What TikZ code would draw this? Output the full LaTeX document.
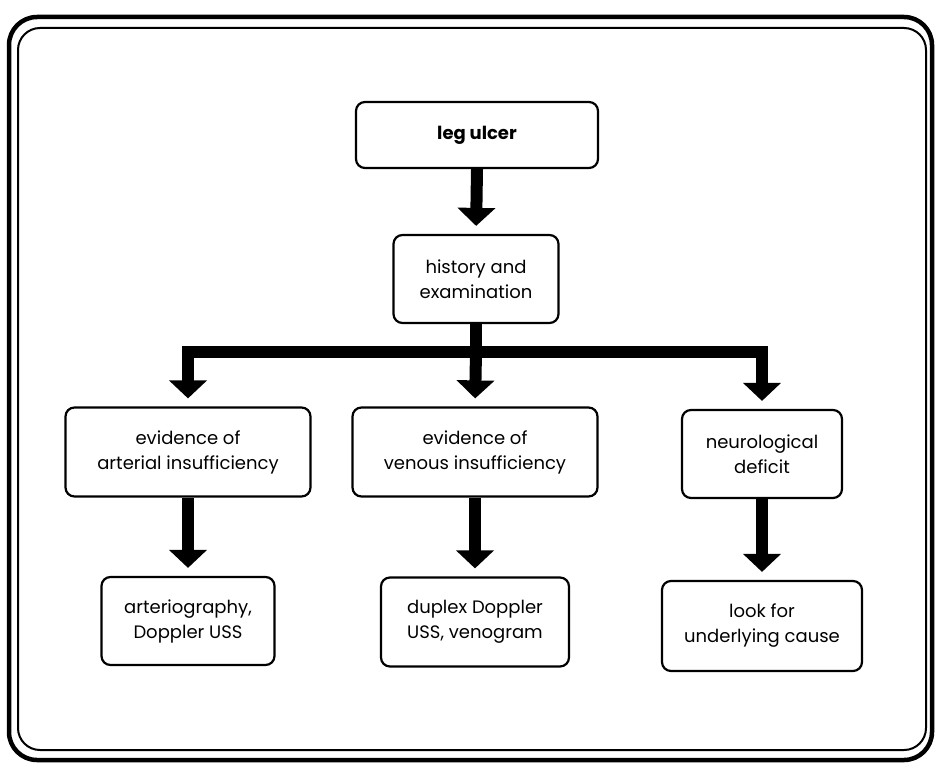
\documentclass[tikz,border=0pt]{standalone}
\usepackage{fontspec}
\setmainfont{Poppins}
\usetikzlibrary{arrows.meta}
\tikzset{
  box/.style={draw=black, line width=2.2pt, rounded corners=9pt, fill=white,
    align=center, inner sep=0pt, font=\fontsize{18}{25}\selectfont},
  bigarrow/.style={line width=12pt, line join=miter, draw=black,
    -{Triangle[width=37pt,length=18pt]}, shorten >=8pt},
  outerframe/.style={draw=black, line width=4.5pt, rounded corners=28pt},
  innerframe/.style={draw=black, line width=2pt, rounded corners=22pt},
}
\begin{document}
\begin{tikzpicture}[x=1pt,y=-1pt]
  \useasboundingbox (0,0) rectangle (936,765);
  % double frame round the chart
  \draw[outerframe] (9,17) rectangle (932,760);
  \draw[innerframe] (18,28) rectangle (926,750);

  % boxes
  \node[box, minimum width=242pt, minimum height=66pt, font=\fontsize{18}{25}\selectfont\bfseries]
    (leg) at (477,135) {leg ulcer};
  \node[box, minimum width=165pt, minimum height=88pt]
    (hist) at (476,279) {history and\\examination};
  \node[box, minimum width=245pt, minimum height=89pt]
    (art) at (188,452) {evidence of\\arterial insufficiency};
  \node[box, minimum width=245pt, minimum height=89pt]
    (ven) at (475,452) {evidence of\\venous insufficiency};
  \node[box, minimum width=160pt, minimum height=88pt]
    (neu) at (762,454) {neurological\\deficit};
  \node[box, minimum width=173pt, minimum height=88pt]
    (artb) at (188,621) {arteriography,\\Doppler USS};
  \node[box, minimum width=188pt, minimum height=89pt]
    (venb) at (475,622) {duplex Doppler\\USS, venogram};
  \node[box, minimum width=200pt, minimum height=90pt]
    (neub) at (762,626) {look for\\underlying cause};

  % branching point under the history box
  \coordinate (split) at (hist.south |- 0,352);

  % connectors
  \draw[bigarrow] (leg.south) -- (hist.north);
  \draw[line width=12pt] (hist.south) -- (split);
  \draw[bigarrow] (split) -| (art.north);
  \draw[bigarrow] (split) -- (ven.north);
  \draw[bigarrow] (split) -| (neu.north);
  \draw[bigarrow] (art.south) -- (artb.north);
  \draw[bigarrow] (ven.south) -- (venb.north);
  \draw[bigarrow] (neu.south) -- (neub.north);
\end{tikzpicture}
\end{document}
